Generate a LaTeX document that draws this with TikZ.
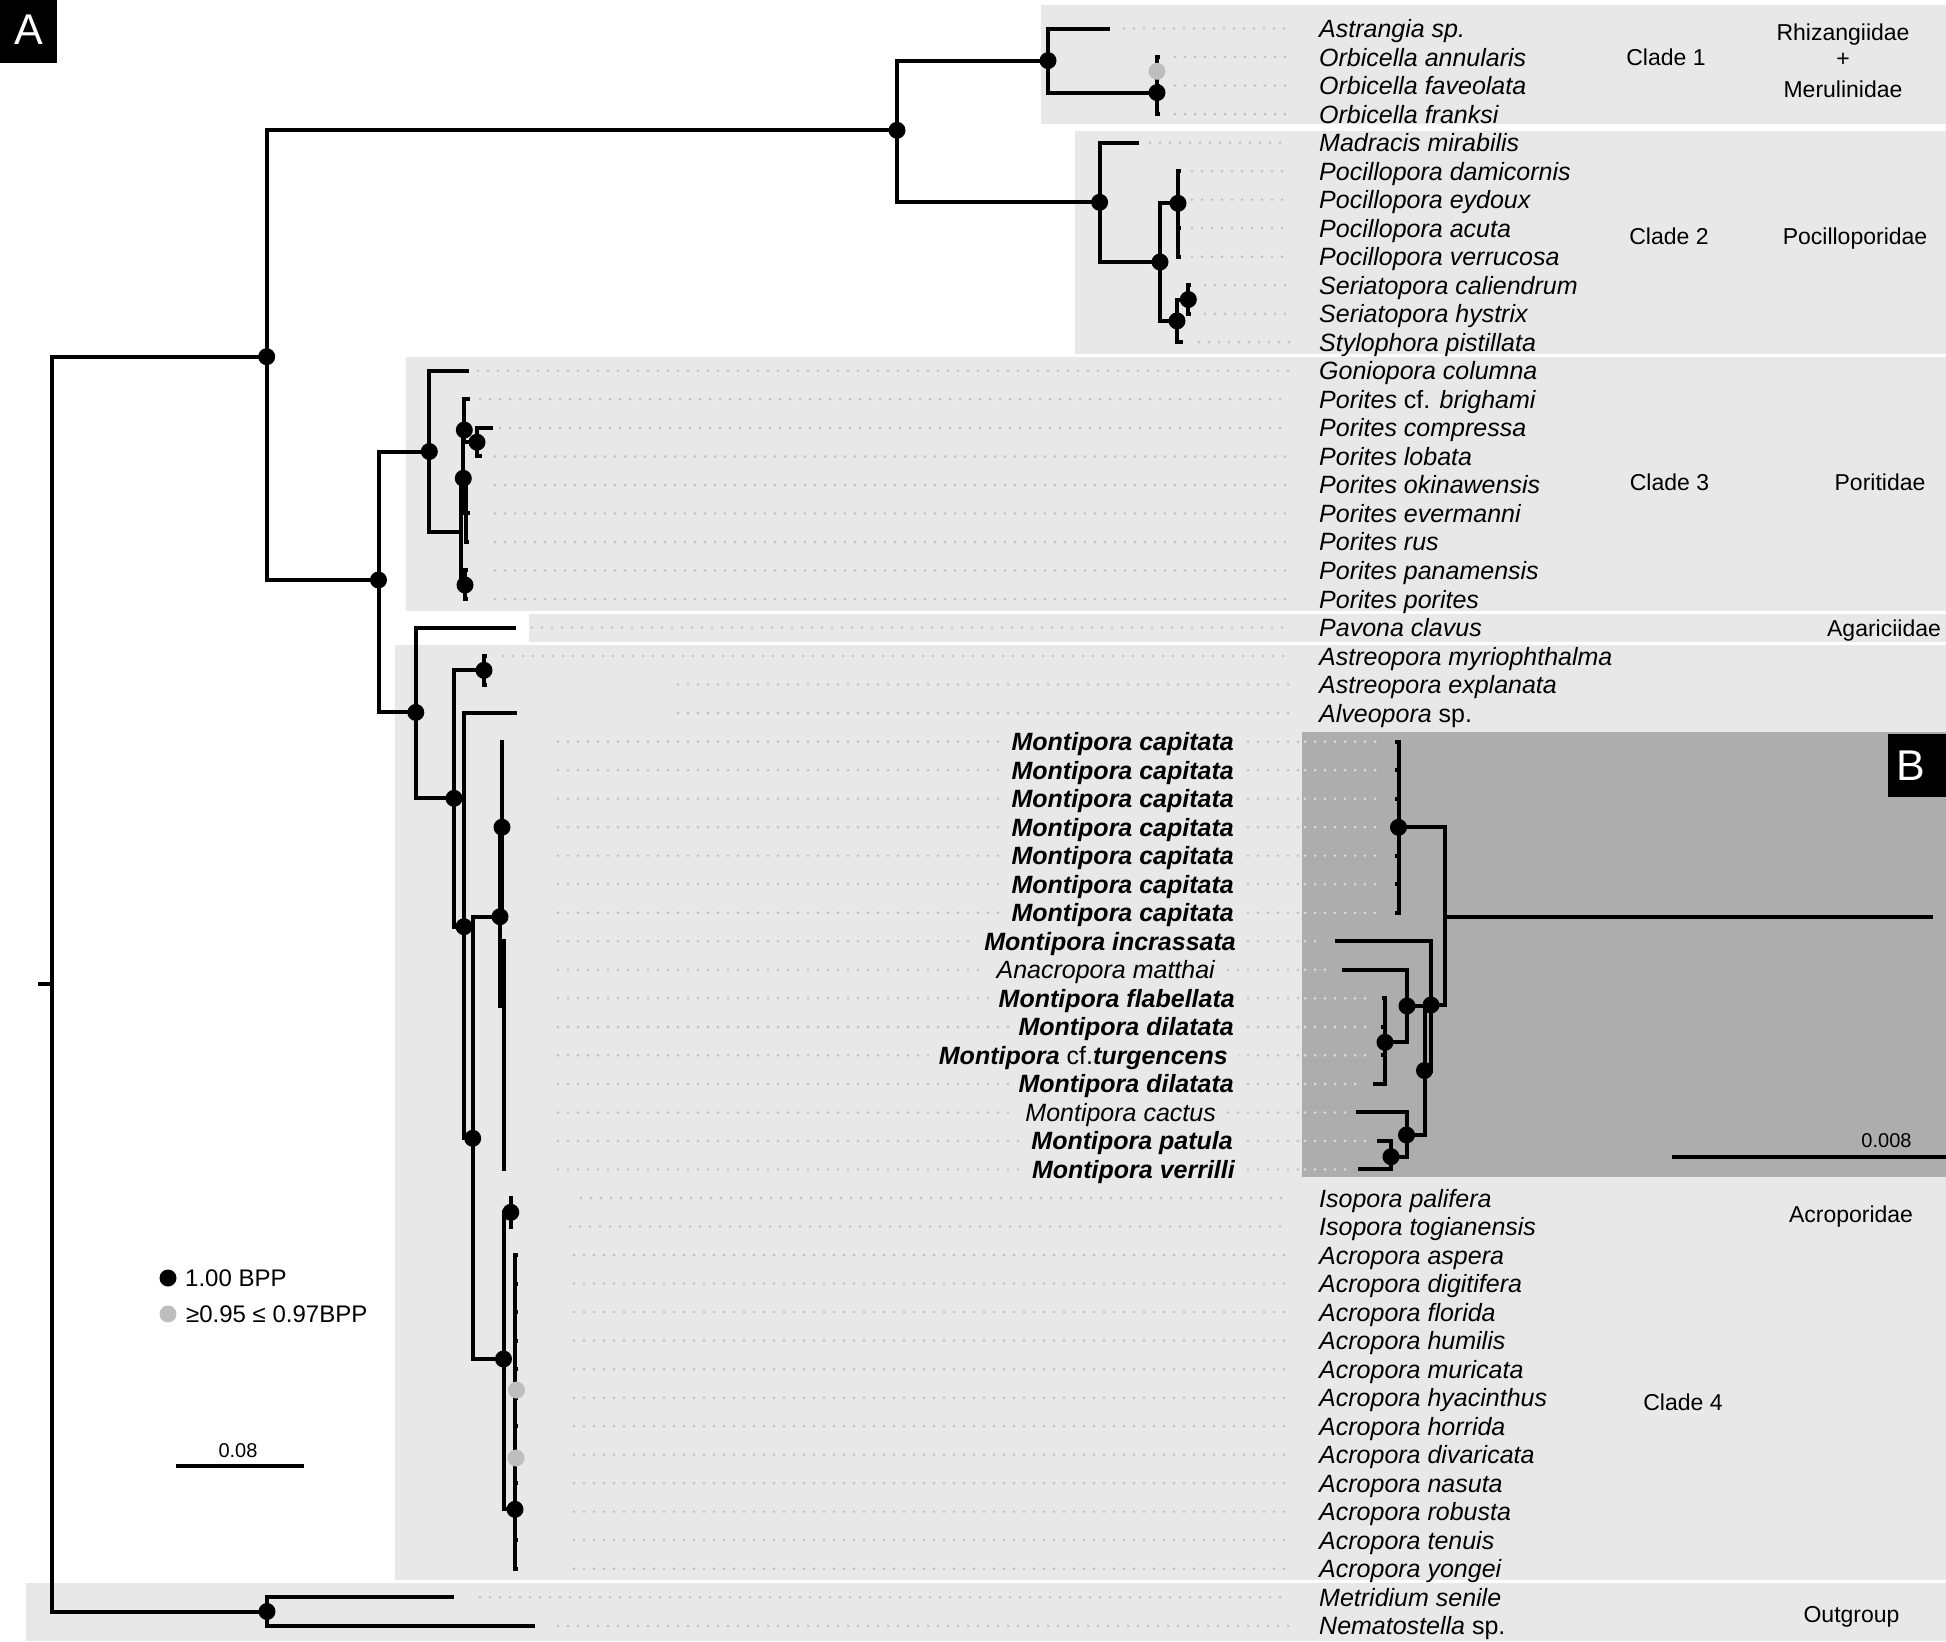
\documentclass[tikz,border=0pt]{standalone}
\usepackage{fontspec}
\setmainfont{Liberation Sans}
\usetikzlibrary{calc}
\definecolor{bandgray}{RGB}{232,232,232}
\definecolor{panelB}{RGB}{173,173,173}
\definecolor{dotgray}{RGB}{192,192,192}
\definecolor{dotlight}{RGB}{222,222,222}
\definecolor{nodegray}{RGB}{190,190,190}
\begin{document}
\begin{tikzpicture}[x=1pt,y=-1pt,
  branch/.style={line width=4pt, line join=miter},
  leader/.style={draw=dotgray, line width=2.8pt, line cap=round, dash pattern=on 0pt off 10pt},
  leaderB/.style={leader, draw=dotlight},
  tax/.style={anchor=base west, inner sep=0pt, font=\fontsize{25}{30}\selectfont\itshape},
  mtax/.style={anchor=base east, inner xsep=10pt, inner ysep=2pt, fill=bandgray, font=\fontsize{25}{30}\selectfont\itshape\bfseries},
  mtaxr/.style={mtax, font=\fontsize{25}{30}\selectfont\itshape},
  clab/.style={anchor=base, inner sep=0pt, font=\fontsize{23}{28}\selectfont},
  small/.style={anchor=base, inner sep=0pt, font=\fontsize{20}{24}\selectfont},
  panellab/.style={anchor=center, inner sep=0pt, text=white, font=\fontsize{43}{50}\selectfont}]
\useasboundingbox (0,0) rectangle (1946,1641);
% ---------- bands ----------
\fill[bandgray] (1041,5) rectangle (1946,124);
\fill[bandgray] (1075,131) rectangle (1946,354);
\fill[bandgray] (406,357) rectangle (1946,611);
\fill[bandgray] (529,614) rectangle (1946,642);
\fill[bandgray] (395,645) rectangle (1946,1580);
\fill[bandgray] (26,1583) rectangle (1946,1641);
\fill[panelB] (1302,732) rectangle (1946,1177);
% ---------- panel letters ----------
\fill[black] (0,0) rectangle (57,63);
\node[panellab] (pA) at (28.5,30) {A};
\fill[black] (1888,734) rectangle (1946,797);
\node[panellab] (pB) at (1911,765.5) {B};
% ---------- tip coordinates ----------
\foreach \i/\tx/\ds in {0/1110/1124,1/1160/1175,2/1160/1175,3/1160/1175,4/1139/1150,5/1181/1192,6/1180/1192,7/1181/1192,8/1181/1192,9/1191/1205,10/1191/1205,11/1183/1199,12/469/478,13/470/480,14/493/500,15/482/495,16/468/495,17/470/495,18/469/495,19/468/495,20/468/495,21/516/532,22/487/503,23/487/678,24/517/678,25/504/558,26/504/558,27/504/558,28/504/558,29/504/558,30/504/558,31/504/558,32/506/558,33/506/558,34/506/558,35/506/558,36/506/558,37/506/558,38/506/558,39/506/558,40/506/558,41/513/581,42/513/570,43/518/574,44/518/574,45/518/574,46/518/574,47/518/574,48/518/574,49/518/574,50/518/574,51/518/574,52/518/574,53/518/574,54/518/574,55/454/480,56/535/558}{
  \pgfmathsetmacro\yy{28.55+28.523*\i}
  \coordinate (t\i) at (\tx,\yy);
  \coordinate (d\i) at (\ds,\yy);
  \coordinate (L\i) at (1319,\yy+9);
}
\coordinate (ex) at (1290,0);
\coordinate (exm) at (1300,0);
% B-panel tips
\foreach \i/\tx in {25/1395,26/1395,27/1395,28/1395,29/1395,30/1395,31/1395,32/1335,33/1342,34/1382,35/1381,36/1381,37/1373,38/1356,39/1377,40/1358}{
  \pgfmathsetmacro\yy{28.55+28.523*\i}
  \coordinate (b\i) at (\tx,\yy);
  \coordinate (bd\i) at (\tx-10,\yy);
  \coordinate (bs\i) at (1305,\yy);
}
% Montipora label anchors (right aligned)
\foreach \i/\rx in {25/1234,26/1234,27/1234,28/1234,29/1234,30/1234,31/1234,32/1236,33/1215,34/1235,35/1234,36/1228,37/1234,38/1216,39/1233,40/1235}{
  \pgfmathsetmacro\yb{28.55+28.523*\i+9}
  \coordinate (R\i) at (\rx+10,\yb);
}
% ---------- leaders ----------
\foreach \i in {0,...,24} \draw[leader] (d\i) -- (d\i -| ex);
\foreach \i in {41,...,56} \draw[leader] (d\i) -- (d\i -| ex);
\foreach \i in {25,...,40} \draw[leader] (d\i) -- (d\i -| exm);
\foreach \i in {25,...,40} \draw[leaderB] (bs\i) -- (bd\i);
% ---------- taxon labels ----------
\node[tax] (lab0) at (L0) {Astrangia sp.};
\node[tax] (lab1) at (L1) {Orbicella annularis};
\node[tax] (lab2) at (L2) {Orbicella faveolata};
\node[tax] (lab3) at (L3) {Orbicella franksi};
\node[tax] (lab4) at (L4) {Madracis mirabilis};
\node[tax] (lab5) at (L5) {Pocillopora damicornis};
\node[tax] (lab6) at (L6) {Pocillopora eydoux};
\node[tax] (lab7) at (L7) {Pocillopora acuta};
\node[tax] (lab8) at (L8) {Pocillopora verrucosa};
\node[tax] (lab9) at (L9) {Seriatopora caliendrum};
\node[tax] (lab10) at (L10) {Seriatopora hystrix};
\node[tax] (lab11) at (L11) {Stylophora pistillata};
\node[tax] (lab12) at (L12) {Goniopora columna};
\node[tax] (lab13) at (L13) {Porites \textup{cf.} brighami};
\node[tax] (lab14) at (L14) {Porites compressa};
\node[tax] (lab15) at (L15) {Porites lobata};
\node[tax] (lab16) at (L16) {Porites okinawensis};
\node[tax] (lab17) at (L17) {Porites evermanni};
\node[tax] (lab18) at (L18) {Porites rus};
\node[tax] (lab19) at (L19) {Porites panamensis};
\node[tax] (lab20) at (L20) {Porites porites};
\node[tax] (lab21) at (L21) {Pavona clavus};
\node[tax] (lab22) at (L22) {Astreopora myriophthalma};
\node[tax] (lab23) at (L23) {Astreopora explanata};
\node[tax] (lab24) at (L24) {Alveopora \textup{sp.}};
\node[mtax] (lab25) at (R25) {Montipora capitata};
\node[mtax] (lab26) at (R26) {Montipora capitata};
\node[mtax] (lab27) at (R27) {Montipora capitata};
\node[mtax] (lab28) at (R28) {Montipora capitata};
\node[mtax] (lab29) at (R29) {Montipora capitata};
\node[mtax] (lab30) at (R30) {Montipora capitata};
\node[mtax] (lab31) at (R31) {Montipora capitata};
\node[mtax] (lab32) at (R32) {Montipora incrassata};
\node[mtaxr] (lab33) at (R33) {Anacropora matthai};
\node[mtax] (lab34) at (R34) {Montipora flabellata};
\node[mtax] (lab35) at (R35) {Montipora dilatata};
\node[mtax] (lab36) at (R36) {Montipora \textmd{\textup{cf.}}turgencens};
\node[mtax] (lab37) at (R37) {Montipora dilatata};
\node[mtaxr] (lab38) at (R38) {Montipora cactus};
\node[mtax] (lab39) at (R39) {Montipora patula};
\node[mtax] (lab40) at (R40) {Montipora verrilli};
\node[tax] (lab41) at (L41) {Isopora palifera};
\node[tax] (lab42) at (L42) {Isopora togianensis};
\node[tax] (lab43) at (L43) {Acropora aspera};
\node[tax] (lab44) at (L44) {Acropora digitifera};
\node[tax] (lab45) at (L45) {Acropora florida};
\node[tax] (lab46) at (L46) {Acropora humilis};
\node[tax] (lab47) at (L47) {Acropora muricata};
\node[tax] (lab48) at (L48) {Acropora hyacinthus};
\node[tax] (lab49) at (L49) {Acropora horrida};
\node[tax] (lab50) at (L50) {Acropora divaricata};
\node[tax] (lab51) at (L51) {Acropora nasuta};
\node[tax] (lab52) at (L52) {Acropora robusta};
\node[tax] (lab53) at (L53) {Acropora tenuis};
\node[tax] (lab54) at (L54) {Acropora yongei};
\node[tax] (lab55) at (L55) {Metridium senile};
\node[tax] (lab56) at (L56) {Nematostella \textup{sp.}};
% ---------- clade / family labels ----------
\node[clab] (cl1) at (1666,65.5) {Clade 1};
\node[clab] (cl2) at (1669,244) {Clade 2};
\node[clab] (cl3l) at (1669.5,490) {Clade 3};
\node[clab] (cl4) at (1683,1410) {Clade 4};
\node[clab] (fRh) at (1843,40.5) {Rhizangiidae};
\node[clab, anchor=center] (fPl) at (1843,59.5) {+};
\node[clab] (fMe) at (1843,97) {Merulinidae};
\node[clab] (fPo) at (1855,244) {Pocilloporidae};
\node[clab] (fPr) at (1880,490) {Poritidae};
\node[clab] (fAg) at (1884,636.5) {Agariciidae};
\node[clab] (fAc) at (1851,1222) {Acroporidae};
\node[clab] (fOu) at (1851.5,1622.5) {Outgroup};
% ---------- main tree internal nodes ----------
\coordinate (root) at (51.7,984);
\coordinate (rtk) at (38,984);
\coordinate (n1) at (266.7,356.7);
\coordinate (n2) at (897,130.3);
\coordinate (c1) at (1048,60.6);
\coordinate (orb) at (1157,92.6);
\coordinate (orbg) at (1157,71.3);
\coordinate (c2) at (1099.6,202.3);
\coordinate (c2b) at (1160,262);
\coordinate (poc) at (1178,203.3);
\coordinate (ss) at (1177,320.9);
\coordinate (seri) at (1188.3,299.5);
\coordinate (n3) at (378.5,580);
\coordinate (cl3) at (429.3,451.5);
\coordinate (por) at (461,532.3);
\coordinate (pa) at (463.3,478.3);
\coordinate (pa1) at (464.3,430);
\coordinate (pcl) at (477,442.2);
\coordinate (pa2) at (466,513.4);
\coordinate (pb) at (465,585);
\coordinate (pv) at (415.8,712.4);
\coordinate (nP) at (454,798.3);
\coordinate (ast) at (484,670.3);
\coordinate (nQ) at (464,926.7);
\coordinate (nR) at (472.7,1138.3);
\coordinate (mon) at (500,916.7);
\coordinate (mcap) at (502,827.2);
\coordinate (mrest) at (503.5,1006);
\coordinate (acr) at (503.5,1359);
\coordinate (iso) at (510.8,1212.3);
\coordinate (acp) at (515,1509.3);
\coordinate (g1) at (516.5,1390);
\coordinate (g2) at (516,1458);
\coordinate (og) at (267,1611.5);
% ---------- main tree edges ----------
\draw[branch] (rtk) -- (root);
\foreach \p/\c in {root/n1,root/og,n1/n2,n1/n3,n2/c1,n2/c2,c1/t0,c1/orb,orb/orbg,orb/t3,orbg/t1,orbg/t2,c2/t4,c2/c2b,c2b/poc,c2b/ss,poc/t5,poc/t6,poc/t7,poc/t8,ss/seri,ss/t11,seri/t9,seri/t10,n3/cl3,n3/pv,cl3/t12,cl3/por,por/pa,por/pb,pa/pa1,pa/pa2,pa1/t13,pa1/pcl,pcl/t14,pcl/t15,pa2/t16,pa2/t17,pa2/t18,pb/t19,pb/t20,pv/t21,pv/nP,nP/ast,nP/nQ,ast/t22,ast/t23,nQ/t24,nQ/nR,nR/mon,nR/acr,mon/mcap,mon/mrest,acr/iso,acr/acp,iso/t41,iso/t42,og/t55,og/t56}
  \draw[branch] (\p) |- (\c);
\foreach \c in {25,...,31} \draw[branch] (mcap) |- (t\c);
\foreach \c in {32,...,40} \draw[branch] (mrest) |- (t\c);
\foreach \c in {43,...,54} \draw[branch] (acp) |- (t\c);
% ---------- B panel tree ----------
\coordinate (bN1) at (1444.5,917.3);
\coordinate (bS) at (1933,917.3);
\coordinate (bcap) at (1398.5,827.3);
\coordinate (bN2) at (1431,1005);
\coordinate (bN3) at (1424.5,1070.5);
\coordinate (bN4) at (1407,1006);
\coordinate (bN6) at (1385,1042.3);
\coordinate (bN5) at (1406.5,1135);
\coordinate (bN8) at (1391,1156.7);
\draw[branch] (bN1) -- (bS);
\foreach \p/\c in {bN1/bcap,bN1/bN2,bN2/b32,bN2/bN3,bN3/bN4,bN3/bN5,bN4/b33,bN4/bN6,bN6/b34,bN6/b35,bN6/b36,bN6/b37,bN5/b38,bN5/bN8,bN8/b39,bN8/b40}
  \draw[branch] (\p) |- (\c);
\foreach \c in {25,...,31} \draw[branch] (bcap) |- (b\c);
% ---------- support dots ----------
\foreach \n in {n1,n2,c1,orb,c2,c2b,poc,ss,seri,n3,cl3,pa,pa1,pcl,pb,pv,nP,ast,nQ,nR,mon,mcap,acr,iso,acp,og,bcap,bN2,bN3,bN4,bN6,bN5,bN8}
  \fill[black] (\n) circle[radius=8.5pt];
\foreach \n in {orbg,g1,g2}
  \fill[nodegray] (\n) circle[radius=8.5pt];
% ---------- legend ----------
\coordinate (lg1) at (168,1278);
\coordinate (lg2) at (168,1314);
\fill[black] (lg1) circle[radius=8.5pt];
\fill[nodegray] (lg2) circle[radius=8.5pt];
\node[anchor=base west, inner sep=0pt, font=\fontsize{24}{28}\selectfont] (lgt1) at (185,1286.6) {1.00 BPP};
\node[anchor=base west, inner sep=0pt, font=\fontsize{24}{28}\selectfont] (lgt2) at (186,1322.6) {≥0.95 ≤ 0.97BPP};
% ---------- scale bars ----------
\coordinate (sa1) at (176,1466);
\coordinate (sa2) at (304,1466);
\draw[branch] (sa1) -- (sa2);
\node[small] (sal) at (238,1457) {0.08};
\coordinate (sb1) at (1672,1156.7);
\coordinate (sb2) at (1946,1156.7);
\draw[branch] (sb1) -- (sb2);
\node[small] (sbl) at (1886.5,1147) {0.008};
\end{tikzpicture}
\end{document}
